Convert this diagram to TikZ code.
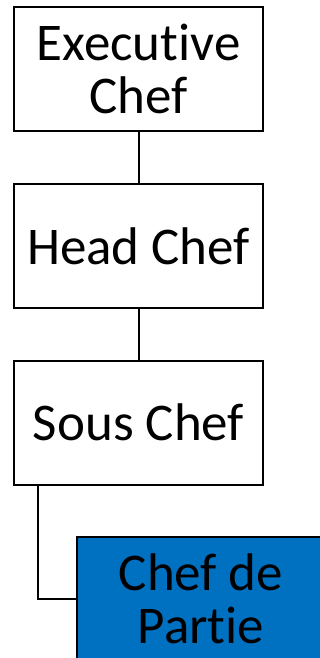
\documentclass[tikz,border=0pt]{standalone}
\usepackage{fontspec}
\setmainfont{Carlito}[RawFeature={-liga;-clig;-dlig}]
\definecolor{boxblue}{HTML}{0070C0}
\begin{document}
\begin{tikzpicture}[x=1pt,y=-1pt,
  rolebox/.style={draw=black, line width=2pt, minimum width=249pt, minimum height=124pt,
    inner sep=0pt, align=center, font=\fontsize{53}{53}\selectfont},
  link/.style={draw=black, line width=2pt}]
\useasboundingbox (0,0) rectangle (320,658);
\clip (0,0) rectangle (320,658);
\node[rolebox, fill=white] (exec) at (138.5,69) {Executive\\Chef};
\node[rolebox, fill=white] (head) at (138.5,246) {Head Chef};
\node[rolebox, fill=white] (sous) at (138.5,422.5) {Sous Chef};
\node[rolebox, fill=boxblue] (cdp) at (201,599) {Chef de\\Partie};
\draw[link] (exec) -- (head);
\draw[link] (head) -- (sous);
\draw[link] ([xshift=25pt]sous.south west) |- (cdp.west);
\end{tikzpicture}
\end{document}
